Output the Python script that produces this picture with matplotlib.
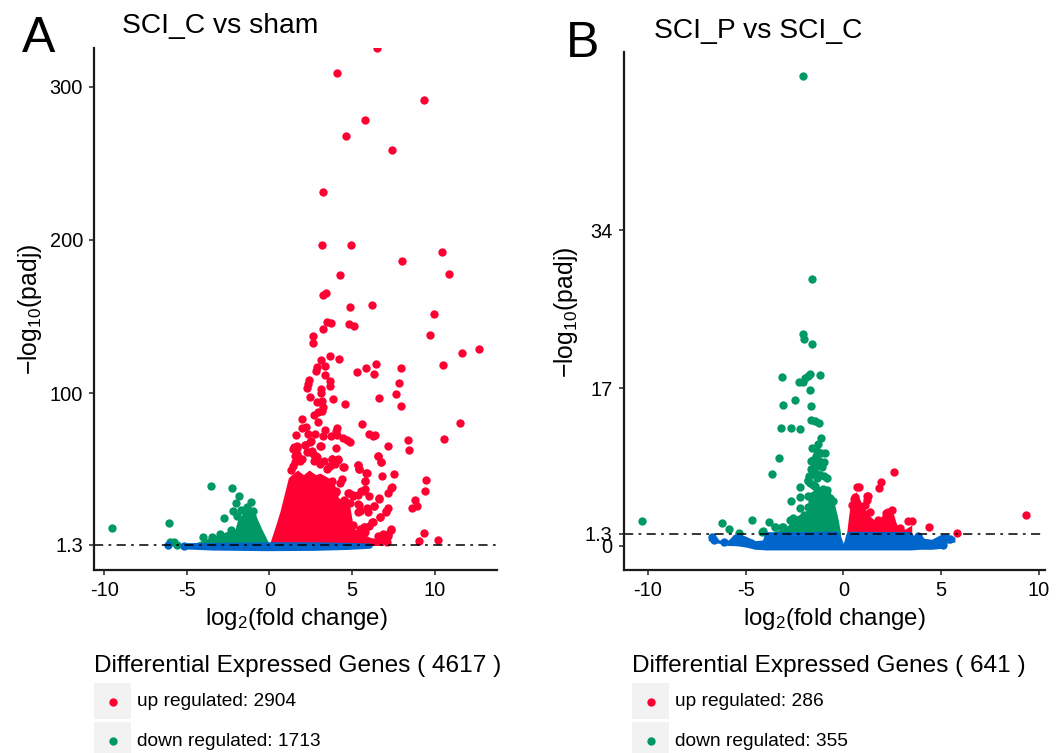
import matplotlib
matplotlib.use("Agg")
import matplotlib.pyplot as plt
from matplotlib.patches import Rectangle

plt.rcParams['font.family'] = ['Liberation Sans', 'DejaVu Sans']
plt.rcParams['mathtext.fontset'] = 'custom'
plt.rcParams['mathtext.rm'] = 'Liberation Sans'

RED = '#FF0033'
GREEN = '#009966'
BLUE = '#0066CC'

# Panel A: single points
a_up_x = [6.5, 4.1, 9.38, 5.76, 4.63, 7.45, 3.27, 3.21, 4.95, 10.45, 8.02, 10.85, 4.27, 3.24, 3.45,
          4.85, 6.24, 9.98, 3.47, 3.72, 4.81, 5.11, 3.23, 2.63, 9.74, 2.63, 11.64, 12.69, 3.68, 4.24,
          3.11, 2.87, 3.37, 2.85, 6.48, 5.84, 7.96, 10.5, 5.29, 6.32, 3.37, 2.38, 3.66, 7.86, 2.34,
          3.66, 2.3, 3.13, 3.11, 7.64, 2.48, 6.63, 3.17, 3.84, 2.87, 4.57, 7.94, 3.25, 3.21, 2.93,
          2.67, 2.0, 2.97, 5.6, 11.54, 1.96, 2.2, 4.12, 3.37, 4.02, 6.06, 6.4, 6.26, 1.58, 2.77,
          2.36, 3.27, 3.72, 4.08, 4.48, 4.69, 4.85, 8.42, 10.6, 2.5, 7.19, 3.11, 4.04, 2.18, 1.7,
          1.41, 8.48, 1.66, 2.46, 2.83, 6.57, 3.78, 4.18, 6.75, 5.39, 4.53, 5.41, 5.9, 7.56, 6.79,
          5.8, 9.47, 4.38, 4.28, 3.76, 7.39, 5.78, 5.54, 9.41, 4.04, 3.72, 4.73, 5.09, 6.06, 7.21,
          6.63, 8.81, 3.58, 4.53, 4.85, 5.45, 6.34, 8.93, 8.63, 5.9, 7.21, 7.07, 5.39, 5.94, 6.71,
          6.22, 5.09, 5.7, 7.35, 5.8, 9.35, 7.21, 9.03, 10.2, 7.11, 6.61, 6.81, 2.0, 1.55, 2.7, 3.3,
          1.5, 1.7, 2.16, 2.46, 3.07, 1.56, 1.76, 2.26, 2.57, 2.87, 1.86, 3.78, 4.18, 4.48, 3.98,
          1.45, 1.29, 3.68, 2.67, 3.07, 3.47, 5.39, 5.41, 5.86, 5.8, 6.6, 6.75, 7.41, 6.65, 5.7,
          4.79, 5.09, 5.39, 5.39, 5.5, 5.9, 6.36, 7.05, 6.71, 6.3, 6.0, 5.5, 5.74, 5.09, 7.35,
          7.21, 6.6, 4.04, 4.12, 3.6, 4.59, 4.53, 7.0, 6.85]
a_up_y = [325, 309, 291, 278, 268, 259, 231, 196.5, 197, 192, 186, 178, 177, 164, 165.5,
          156.5, 157.8, 151.5, 146.3, 146, 145.4, 143.9, 141.7, 137.4, 138, 133, 126.3, 128.7, 124.6, 122.4,
          121.7, 117, 117.6, 114.6, 119, 116.5, 116.3, 118.7, 113.7, 112.6, 111.7, 109, 108.3, 106.7, 106,
          105, 103.7, 102.8, 100.4, 99.3, 97.4, 97.2, 95.2, 96, 94.1, 93.3, 92, 90.9, 88.7, 88,
          85.9, 83, 81.3, 79.8, 80.6, 77.4, 77.8, 77.4, 76.1, 75.6, 73.5, 72.8, 72.2, 73, 73.3,
          73.5, 72, 72, 73, 71, 69.6, 68, 69.6, 70, 68.7, 65.6, 65.4, 64.3, 66, 65.6,
          63.9, 62.8, 60.4, 61.7, 58.9, 58.9, 57, 57, 55, 53.5, 51.7, 50.6, 47.8, 47.4, 46,
          42.6, 43.3, 44, 41.3, 43, 38.5, 37.4, 36.5, 36.5, 35.6, 34.8, 35, 33.5, 32.8, 35,
          31, 30.6, 28.9, 30.4, 28.5, 27.4, 26.3, 26.7, 25.4, 25, 25.4, 23.5, 22.4, 22.4, 19.6,
          15.9, 14.1, 13, 11.3, 9.3, 8.7, 8.3, 3.9, 4.6, 2.8, 6, 7, 57, 55, 60, 56,
          64.8, 64.3, 66.5, 68, 65.4, 59.3, 58.3, 61.5, 62.2, 58.3, 56, 57, 56.7, 52, 54,
          52.8, 50, 52.8, 56, 54, 50.6, 53.5, 50.6, 48, 43, 59, 55, 38.7, 31.5, 36,
          34.8, 33.3, 33.7, 27.8, 23.5, 24.6, 26.3, 22.4, 19.6, 15.9, 13.7, 11.5, 13, 8.3, 10.9,
          7.2, 7.2, 36.5, 28.9, 28.9, 30, 22.4, 5, 8]
a_down_x = [-3.56, -2.28, -1.86, -2.0, -1.11, -2.18, -2.73, -1.37, -0.97, -6.1, -9.54, -4.04, -3.5, -6.0,
            -5.6, -5.76, -1.94, -1.7, -2.3, -3.0]
a_down_y = [39.8, 38.5, 33.3, 28.5, 28.9, 23.5, 18.5, 25.6, 23.5, 15.2, 12, 6.1, 6.5, 2.8, 1.3, 2.8,
            20, 24, 11, 8.5]
a_ns_dots_x = [-6.12, -5.2]
a_ns_dots_y = [1.1, 0.6]

# Panel A: outline of the overlapping clouds
a_up_cloud_x = [0.04, 0.34, 0.65, 0.95, 1.15, 1.35, 1.7, 2.06, 2.4, 2.8, 3.07, 3.88, 4.18, 4.79, 4.89, 5.09, 6.1, 6.71, 6.9]
a_up_cloud_top = [2.8, 12.6, 23.4, 36.4, 45, 47, 50, 47, 50, 47, 48, 43, 32, 28, 25, 12, 6, 5, 3]
a_down_cloud_x = [-4.6, -3.7, -2.99, -2.08, -1.94, -1.58, -1.27, -0.97, -0.77, -0.46, -0.06]
a_down_cloud_top = [2, 5.5, 8.5, 11.5, 17, 22.4, 25.6, 25.6, 19, 11.5, 2.8]
a_ns_x = [-5.35, -5.3, -3.4, -0.16, 2.67, 4.69, 6.1, 6.22]
a_ns_top = [1.3, 2.6, 2.8, 3.2, 3.2, 2.8, 2.4, 1.3]
a_ns_bottom = [0, -1.4, -2.2, -2.6, -2.4, -1.8, -1, 0]

# Panel B: single points
b_up_x = [0.7, 1.23, 1.84, 1.94, 2.61, 4.38, 5.83, 9.36, 2.47, 2.2, 3.32, 3.5, 0.6, 1.36,
          0.55, 0.8, 0.43, 1.11, 1.28, 1.19, 1.79, 2.13, 2.3, 2.9, 2.56]
b_up_y = [6.3, 5.4, 6.2, 6.9, 8.0, 2.0, 1.4, 3.3, 3.9, 3.5, 2.7, 2.7, 5.3, 3.7,
          5.1, 6.3, 4.4, 4.4, 5.4, 5.0, 2.8, 3.0, 3.7, 1.9, 2.1]
b_down_x = [-2.05, -1.62, -2.06, -2.01, -1.58, -3.15, -1.18, -1.69, -1.79, -1.96, -2.28, -2.05, -1.69,
            -2.49, -3.1, -1.64, -1.67, -1.45, -1.26, -3.21, -2.69, -2.22, -1.13, -1.3, -1.6, -0.95,
            -1.4, -3.31, -1.64, -1.23, -0.99, -1.45, -1.09, -1.67, -3.65, -1.36, -1.74, -0.82, -1.33,
            -1.82, -1.7, -2.2, -1.45, -1.02, -2.23, -2.69, -2.22, -4.69, -3.82, -10.28, -6.22, -5.87,
            -5.35, -4.18, -3.51, -3.15, -1.79, -1.62, -1.19, -0.97, -1.53, -1.33, -0.85, -1.79, -0.51,
            -0.68, -1.33, -1.16, -1.53, -2.73, -2.56, -2.0, -3.5, -3.07, -4.09, -1.79]
b_down_y = [50.6, 28.7, 22.8, 22.3, 21.8, 18.2, 18.4, 18.5, 18.3, 18.1, 17.7, 17.7, 16.8,
            15.7, 15.2, 15.05, 13.6, 13.5, 13.2, 12.7, 12.7, 12.6, 11.6, 11, 10.6, 10,
            9.7, 9.5, 9.2, 9.1, 9, 8.5, 8.5, 8.3, 7.7, 7.8, 7.5, 7.3, 7.3,
            7, 6.8, 6.4, 6.5, 6.1, 5.3, 4.8, 4.06, 2.77, 2.55, 2.66, 2.44, 1.83,
            1.44, 1.54, 2.05, 2.05, 7.1, 7.8, 7.65, 7.5, 6.6, 6.0, 6.0, 5.4, 4.8,
            5.2, 10.2, 10, 9.3, 2.8, 3.0, 3.3, 2.0, 2.0, 1.65, 4.2]
b_ns_dots_x = [-6.73, -6.62, -6.1, 3.84, 5.46, 5.12, -5.5, -4.7]
b_ns_dots_y = [0.93, 0.65, 0.47, 1.1, 0.72, 0.1, 0.9, 0.3]

# Panel B: outline of the overlapping clouds
b_up_cloud_x = [0.17, 0.27, 0.38, 0.65, 0.94, 1.36, 1.7, 2.13, 2.56, 2.73, 3.15, 3.5]
b_up_cloud_top = [1.4, 3.2, 4.96, 5.85, 4.6, 3.2, 2.6, 3.2, 3.5, 2.26, 1.8, 2.26]
b_down_cloud_x = [-3.5, -2.81, -2.63, -2.13, -1.84, -1.79, -1.19, -0.72, -0.51, -0.38, -0.26, -0.14]
b_down_cloud_top = [1.5, 2.26, 3, 3.5, 3.9, 5.7, 6.3, 6, 5, 3.9, 2.8, 1.4]
b_ns_x = [-6.91, -6.56, -6.22, -5.88, -5.63, -5.37, -4.94, -4.52, -4.13, -4.01, -2.05, -0.34, -0.2, 0,
          0.14, 0.26, 3.41, 3.67, 3.89, 4.13, 4.52, 5.03, 5.29, 5.71]
b_ns_top = [1.0, 0.83, 0.57, 0.65, 1.19, 1.36, 1.0, 0.57, 0.65, 1.54, 1.54, 1.62, 1.36, 0.29,
            1.36, 1.58, 1.54, 1.0, 1.44, 0.83, 0.72, 1.29, 1.29, 0.93]
b_ns_bottom = [0.57, 0.36, 0.22, 0.04, 0.04, 0, -0.14, -0.36, -0.4, -0.43, -0.43, -0.43, -0.43, -0.43,
               -0.43, -0.43, -0.43, -0.4, -0.36, -0.36, -0.36, -0.25, 0.29, 0.43]

x_ticks = [-10, -5, 0, 5, 10]
x_labels = ['-10', '-5', '0', '5', '10']
a_yticks = [1.3, 100, 200, 300]
a_ylabels = ['1.3', '100', '200', '300']
b_yticks = [0, 1.3, 17, 34]
b_ylabels = ['0', '1.3', '17', '34']

W, H = 1064, 753
DOT = 36


def make_axes(fig, left, right, top, bottom):
    return fig.add_axes([left / W, 1 - bottom / H, (right - left) / W, (bottom - top) / H])


def draw_volcano(ax, up, down, ns_dots, up_cloud, down_cloud, ns, xlim, ylim, yticks, ylabels):
    ax.fill_between(up_cloud[0], 0.8, up_cloud[1], color=RED, lw=0)
    ax.scatter(up[0], up[1], s=DOT, color=RED, lw=0)
    ax.fill_between(down_cloud[0], 0.8, down_cloud[1], color=GREEN, lw=0)
    ax.scatter(down[0], down[1], s=DOT, color=GREEN, lw=0)
    ax.fill_between(ns[0], ns[2], ns[1], color=BLUE, lw=0)
    ax.scatter(ns_dots[0], ns_dots[1], s=DOT, color=BLUE, lw=0)
    ax.axhline(1.3, color='black', lw=1.1, ls=(0, (6, 3.5, 1.8, 3.5)))
    ax.set_xlim(xlim)
    ax.set_ylim(ylim)
    ax.set_xticks(x_ticks)
    ax.set_xticklabels(x_labels)
    ax.set_yticks(yticks)
    ax.set_yticklabels(ylabels)
    ax.tick_params(length=3.5, width=1.1, labelsize=14.4, color='#222222', pad=4.5)
    for side in ['top', 'right']:
        ax.spines[side].set_visible(False)
    for side in ['left', 'bottom']:
        ax.spines[side].set_linewidth(1.6)
        ax.spines[side].set_color('#1a1a1a')


def draw_legend(over, x0, total, n_up, n_down):
    over.text(x0, 666, f'Differential Expressed Genes ( {total} )', fontsize=17.6, va='center', ha='left')
    for y0, colour, label in [(683, RED, f'up regulated: {n_up}'), (722, GREEN, f'down regulated: {n_down}')]:
        over.add_patch(Rectangle((x0, y0), 37, 36, color='#F2F2F2', lw=0))
        over.scatter([x0 + 18.5], [y0 + 18.5], s=DOT, color=colour, lw=0)
        over.text(x0 + 43, y0 + 19, label, fontsize=13.8, va='center', ha='left')


fig = plt.figure(figsize=(W / 100, H / 100), dpi=100)

ax_a = make_axes(fig, 94, 497, 48, 570)
draw_volcano(ax_a, (a_up_x, a_up_y), (a_down_x, a_down_y), (a_ns_dots_x, a_ns_dots_y),
             (a_up_cloud_x, a_up_cloud_top), (a_down_cloud_x, a_down_cloud_top),
             (a_ns_x, a_ns_top, a_ns_bottom), (-10.62, 13.78), (-15.2, 325.2), a_yticks, a_ylabels)

ax_b = make_axes(fig, 623.5, 1045, 52, 570)
draw_volcano(ax_b, (b_up_x, b_up_y), (b_down_x, b_down_y), (b_ns_dots_x, b_ns_dots_y),
             (b_up_cloud_x, b_up_cloud_top), (b_down_cloud_x, b_down_cloud_top),
             (b_ns_x, b_ns_top, b_ns_bottom), (-11.25, 10.32), (-2.59, 53.2), b_yticks, b_ylabels)

# Overlay in pixel units for the texts and legend keys
over = fig.add_axes([0, 0, 1, 1])
over.set_xlim(0, W)
over.set_ylim(H, 0)
over.axis('off')

over.text(22, 52, 'A', fontsize=36, va='baseline', ha='left')
over.text(566, 57, 'B', fontsize=36, va='baseline', ha='left')
over.text(122, 26, 'SCI_C vs sham', fontsize=20.3, va='center', ha='left')
over.text(654, 31, 'SCI_P vs SCI_C', fontsize=20.3, va='center', ha='left')
for cx in (296, 834):
    over.text(cx, 619, r'$\mathrm{log_2}$(fold change)', fontsize=17.3, va='center', ha='center')
over.text(30, 309, r'$\mathrm{-log_{10}(padj)}$', fontsize=17.8, va='center', ha='center', rotation=90)
over.text(566, 312, r'$\mathrm{-log_{10}(padj)}$', fontsize=17.8, va='center', ha='center', rotation=90)

draw_legend(over, 94, 4617, 2904, 1713)
draw_legend(over, 632, 641, 286, 355)

fig.savefig('out.png', dpi=100)
